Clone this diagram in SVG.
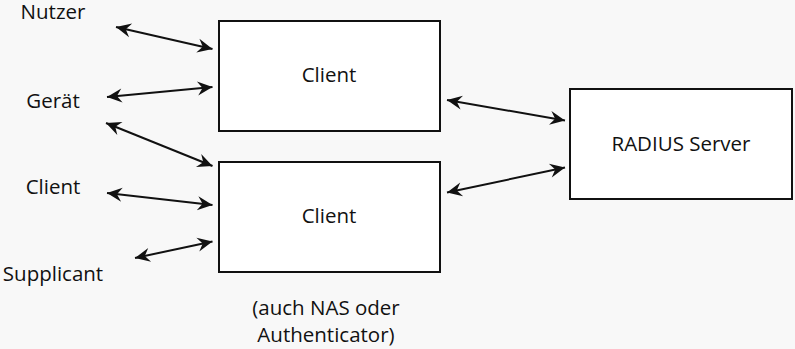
<svg xmlns="http://www.w3.org/2000/svg" width="795" height="349" viewBox="0 0 795 349">
  <defs>
    <style>
      text { font-family: "Open Sans", "Noto Sans", "DejaVu Sans", sans-serif; font-size: 20.5px; fill: #111; text-anchor: middle; }
      .box { fill: #ffffff; stroke: #111; stroke-width: 2; }
      .link { fill: none; stroke: #111; stroke-width: 2; marker-start: url(#head); marker-end: url(#head); }
    </style>
    <marker id="head" markerUnits="userSpaceOnUse" viewBox="-16 -8 17 16" refX="0" refY="0" markerWidth="17" markerHeight="16" orient="auto-start-reverse">
      <path d="M0,0 L-15,-7 L-10,0 L-15,7 Z" fill="#111"/>
    </marker>
  </defs>

  <rect width="795" height="349" fill="#f8f8f8"/>

  <!-- endpoint labels -->
  <g id="label-nutzer"><text x="53" y="19">Nutzer</text></g>
  <g id="label-geraet"><text x="53" y="108">Gerät</text></g>
  <g id="label-client"><text x="53" y="194">Client</text></g>
  <g id="label-supplicant"><text x="53" y="281">Supplicant</text></g>

  <!-- network access servers -->
  <g id="client-top">
    <rect class="box" x="219" y="21" width="221" height="110"/>
    <text x="329" y="82">Client</text>
  </g>
  <g id="client-bottom">
    <rect class="box" x="219" y="162" width="221" height="110"/>
    <text x="329" y="223">Client</text>
  </g>
  <g id="note">
    <text x="326" y="315">(auch NAS oder</text>
    <text x="326" y="342">Authenticator)</text>
  </g>

  <!-- authentication server -->
  <g id="radius">
    <rect class="box" x="570" y="89" width="222" height="110"/>
    <text x="681" y="151">RADIUS Server</text>
  </g>

  <!-- bidirectional links -->
  <g id="connectors">
    <line class="link" x1="116" y1="27" x2="212.5" y2="49"/>
    <line class="link" x1="107" y1="97" x2="212.5" y2="87"/>
    <line class="link" x1="106" y1="123" x2="212.5" y2="166"/>
    <line class="link" x1="107" y1="193" x2="212.5" y2="205"/>
    <line class="link" x1="135" y1="258" x2="212.5" y2="241.5"/>
    <line class="link" x1="447" y1="100" x2="565" y2="120.5"/>
    <line class="link" x1="447" y1="192.5" x2="565" y2="167.5"/>
  </g>
</svg>
